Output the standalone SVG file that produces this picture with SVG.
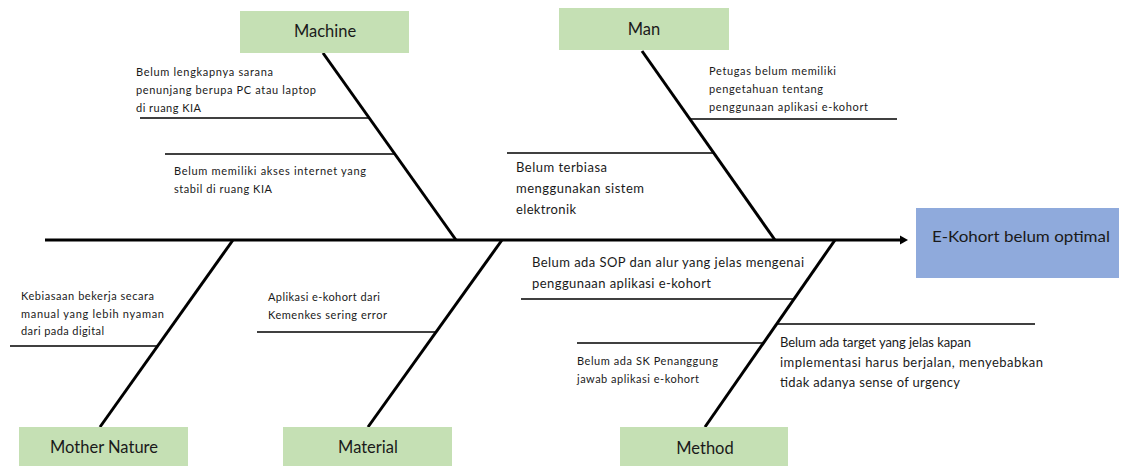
<svg xmlns="http://www.w3.org/2000/svg" width="1121" height="466" viewBox="0 0 1121 466">
  <defs>
    <marker id="arrowhead" markerUnits="userSpaceOnUse" markerWidth="12" markerHeight="12" refX="1" refY="5" orient="auto">
      <path d="M0,0.5 L8,5 L0,9.5 Z" fill="#000"/>
    </marker>
    <style>
      .cat { fill: #C5E0B4; }
      .effect { fill: #8FAADC; }
      .lbl { font-family: Lato, "Open Sans", "Liberation Sans", sans-serif; font-size: 16.5px; fill: #1a1a1a; text-anchor: middle; }
      .eff { font-family: Lato, "Open Sans", "Liberation Sans", sans-serif; font-size: 16px; fill: #1a1a1a; }
      .sm { font-family: Lato, "Open Sans", "Liberation Sans", sans-serif; font-size: 11px; fill: #1a1a1a; }
      .md { font-family: Lato, "Open Sans", "Liberation Sans", sans-serif; font-size: 13px; fill: #1a1a1a; }
      .spine { stroke: #000; stroke-width: 3; fill: none; }
      .bone { stroke: #000; stroke-width: 3; fill: none; }
      .sub { stroke: #000; stroke-width: 1.5; fill: none; }
    </style>
  </defs>
  <rect width="1121" height="466" fill="#fff"/>

  <g id="connectors">
    <line class="spine" x1="45" y1="240" x2="901" y2="240" marker-end="url(#arrowhead)"/>
    <line class="bone" x1="323" y1="53" x2="456" y2="240"/>
    <line class="bone" x1="642" y1="51" x2="775" y2="240"/>
    <line class="bone" x1="233" y1="240" x2="100" y2="427"/>
    <line class="bone" x1="502" y1="240" x2="368" y2="427"/>
    <line class="bone" x1="835" y1="240" x2="705" y2="427"/>
    <line class="sub" x1="140" y1="118" x2="369" y2="118"/>
    <line class="sub" x1="165" y1="154" x2="395" y2="154"/>
    <line class="sub" x1="690" y1="119" x2="897" y2="119"/>
    <line class="sub" x1="507" y1="153" x2="713" y2="153"/>
    <line class="sub" x1="10" y1="346" x2="158" y2="346"/>
    <line class="sub" x1="257" y1="332" x2="436" y2="332"/>
    <line class="sub" x1="521" y1="299" x2="794" y2="299"/>
    <line class="sub" x1="577" y1="343" x2="763" y2="343"/>
    <line class="sub" x1="778" y1="324" x2="1035" y2="324"/>
  </g>

  <g id="effect">
    <rect class="effect" x="916" y="208" width="203" height="70"/>
    <text class="eff" x="932" y="242" textLength="178" lengthAdjust="spacingAndGlyphs">E-Kohort belum optimal</text>
  </g>

  <g id="cat-machine">
    <rect class="cat" x="240" y="11" width="169" height="42"/>
    <text class="lbl" x="325" y="37">Machine</text>
  </g>
  <g id="cat-man">
    <rect class="cat" x="559" y="8" width="170" height="42"/>
    <text class="lbl" x="644" y="35">Man</text>
  </g>
  <g id="cat-mother-nature">
    <rect class="cat" x="19" y="427" width="169" height="40"/>
    <text class="lbl" x="104" y="453">Mother Nature</text>
  </g>
  <g id="cat-material">
    <rect class="cat" x="283" y="427" width="169" height="40"/>
    <text class="lbl" x="368" y="453">Material</text>
  </g>
  <g id="cat-method">
    <rect class="cat" x="620" y="427" width="168" height="40"/>
    <text class="lbl" x="705" y="454">Method</text>
  </g>

  <g id="cause-machine-1">
    <text class="sm" x="136" y="76" textLength="137" lengthAdjust="spacing">Belum lengkapnya sarana</text>
    <text class="sm" x="136" y="94" textLength="180" lengthAdjust="spacing">penunjang berupa PC atau laptop</text>
    <text class="sm" x="136" y="112" textLength="65" lengthAdjust="spacing">di ruang KIA</text>
  </g>
  <g id="cause-machine-2">
    <text class="sm" x="174" y="175" textLength="192" lengthAdjust="spacing">Belum memiliki akses internet yang</text>
    <text class="sm" x="174" y="193" textLength="98" lengthAdjust="spacing">stabil di ruang KIA</text>
  </g>
  <g id="cause-man-1">
    <text class="sm" x="709" y="75" textLength="127" lengthAdjust="spacing">Petugas belum memiliki</text>
    <text class="sm" x="709" y="93" textLength="114" lengthAdjust="spacing">pengetahuan tentang</text>
    <text class="sm" x="709" y="111" textLength="159" lengthAdjust="spacing">penggunaan aplikasi e-kohort</text>
  </g>
  <g id="cause-man-2">
    <text class="md" x="516" y="172" textLength="91" lengthAdjust="spacing">Belum terbiasa</text>
    <text class="md" x="516" y="193" textLength="128" lengthAdjust="spacing">menggunakan sistem</text>
    <text class="md" x="516" y="214" textLength="60" lengthAdjust="spacing">elektronik</text>
  </g>
  <g id="cause-mother-nature-1">
    <text class="sm" x="21" y="300" textLength="133" lengthAdjust="spacing">Kebiasaan bekerja secara</text>
    <text class="sm" x="21" y="318" textLength="143" lengthAdjust="spacing">manual yang lebih nyaman</text>
    <text class="sm" x="21" y="335" textLength="83" lengthAdjust="spacing">dari pada digital</text>
  </g>
  <g id="cause-material-1">
    <text class="sm" x="268" y="301" textLength="112" lengthAdjust="spacing">Aplikasi e-kohort dari</text>
    <text class="sm" x="268" y="319" textLength="119" lengthAdjust="spacing">Kemenkes sering error</text>
  </g>
  <g id="cause-method-1">
    <text class="md" x="532" y="267" textLength="272" lengthAdjust="spacing">Belum ada SOP dan alur yang jelas mengenai</text>
    <text class="md" x="532" y="288" textLength="179" lengthAdjust="spacing">penggunaan aplikasi e-kohort</text>
  </g>
  <g id="cause-method-2">
    <text class="sm" x="577" y="365" textLength="141" lengthAdjust="spacing">Belum ada SK Penanggung</text>
    <text class="sm" x="577" y="383" textLength="122" lengthAdjust="spacing">jawab aplikasi e-kohort</text>
  </g>
  <g id="cause-method-3">
    <text class="md" x="780" y="347" textLength="191" lengthAdjust="spacing">Belum ada target yang jelas kapan</text>
    <text class="md" x="780" y="367" textLength="263" lengthAdjust="spacing">implementasi harus berjalan, menyebabkan</text>
    <text class="md" x="780" y="387" textLength="180" lengthAdjust="spacing">tidak adanya sense of urgency</text>
  </g>
</svg>
